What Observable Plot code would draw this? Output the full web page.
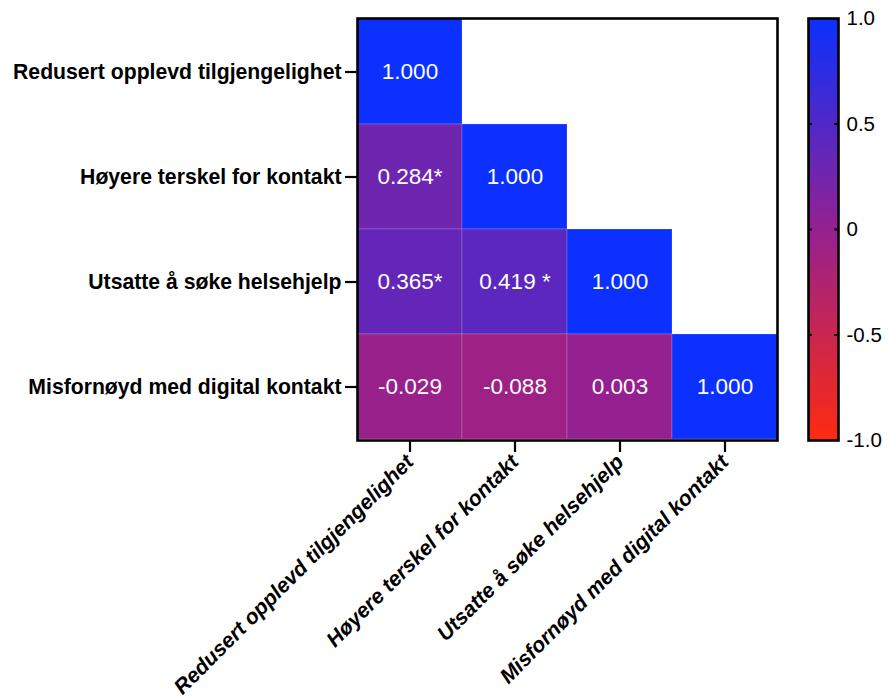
<!DOCTYPE html>
<html>
<head>
<meta charset="utf-8">
<script src="https://cdn.jsdelivr.net/npm/d3@7"></script>
<script src="https://cdn.jsdelivr.net/npm/@observablehq/plot@0.6"></script>
<style>
  html, body { margin: 0; padding: 0; background: #fff; }
  #wrap { position: relative; width: 896px; height: 699px; }
  #wrap svg { position: absolute; left: 0; top: 0; font-family: "Liberation Sans", Arial, sans-serif; }
  #main g[aria-label="y-axis tick"] path, #main g[aria-label="x-axis tick"] path { stroke-width: 2.2; }
</style>
</head>
<body>
<div id="wrap"></div>
<script>
const variables = [
  "Redusert opplevd tilgjengelighet",
  "Høyere terskel for kontakt",
  "Utsatte å søke helsehjelp",
  "Misfornøyd med digital kontakt"
];
const correlations = [
  [1.000],
  [0.284, 1.000],
  [0.365, 0.419, 1.000],
  [-0.029, -0.088, 0.003, 1.000]
];
const cellLabels = [
  ["1.000"],
  ["0.284*", "1.000"],
  ["0.365*", "0.419 *", "1.000"],
  ["-0.029", "-0.088", "0.003", "1.000"]
];
const colorTicks = [-1, -0.5, 0, 0.5, 1];
const colorTickLabels = ["-1.0", "-0.5", "0", "0.5", "1.0"];
const colorDomain = [-1, 0, 1];
const colorRange = ["#ff2a10", "#952190", "#0b30ff"];

const cells = [];
correlations.forEach((row, i) => row.forEach((v, j) => {
  cells.push({row: variables[i], col: variables[j], value: v, label: cellLabels[i][j]});
}));

const colorScale = {type: "linear", domain: colorDomain, range: colorRange, interpolate: "rgb"};

const main = Plot.plot({
  width: 896, height: 699,
  marginLeft: 357, marginRight: 119, marginTop: 18, marginBottom: 259,
  style: {fontFamily: "Liberation Sans, Arial, sans-serif", background: "transparent"},
  x: {type: "band", domain: variables, padding: 0, label: null},
  y: {type: "band", domain: variables, padding: 0, label: null},
  color: colorScale,
  marks: [
    Plot.cell(cells, {x: "col", y: "row", fill: "value", stroke: "white", strokeOpacity: 0.18, strokeWidth: 1, inset: 0}),
    Plot.text(cells, {x: "col", y: "row", text: "label", fill: "white", fontSize: 22.5}),
    Plot.frame({stroke: "black", strokeWidth: 2.6}),
    Plot.axisY({tickSize: 12, tickPadding: 4, fontSize: 21.2, fontWeight: "bold", fill: "black", color: "black"}),
    Plot.axisX({tickSize: 12, tickPadding: 6, tickRotate: -45, fontSize: 21.2, fontWeight: "bold", fontStyle: "italic", color: "black"})
  ]
});
main.id = "main";

const bar = Plot.plot({
  width: 896, height: 699,
  marginLeft: 808, marginRight: 58, marginTop: 18, marginBottom: 259,
  style: {fontFamily: "Liberation Sans, Arial, sans-serif", background: "transparent"},
  x: {domain: [0, 1], axis: null},
  y: {domain: [-1, 1], axis: null},
  color: colorScale,
  marks: [
    Plot.raster({x1: 0, x2: 1, y1: -1, y2: 1, width: 1, height: 400, fill: (x, y) => y, imageRendering: "auto"}),
    Plot.ruleY(colorTicks.slice(1, -1), {x1: 0, x2: 0.13, stroke: "black", strokeWidth: 2}),
    Plot.ruleY(colorTicks.slice(1, -1), {x1: 0.87, x2: 1, stroke: "black", strokeWidth: 2}),
    Plot.frame({stroke: "black", strokeWidth: 2.6}),
    Plot.axisY({anchor: "right", ticks: colorTicks, tickFormat: (d) => colorTickLabels[colorTicks.indexOf(d)], tickSize: 0, tickPadding: 8, fontSize: 20.5, color: "black"})
  ]
});
bar.id = "bar";

const wrap = document.getElementById("wrap");
wrap.appendChild(main);
wrap.appendChild(bar);
</script>
</body>
</html>
